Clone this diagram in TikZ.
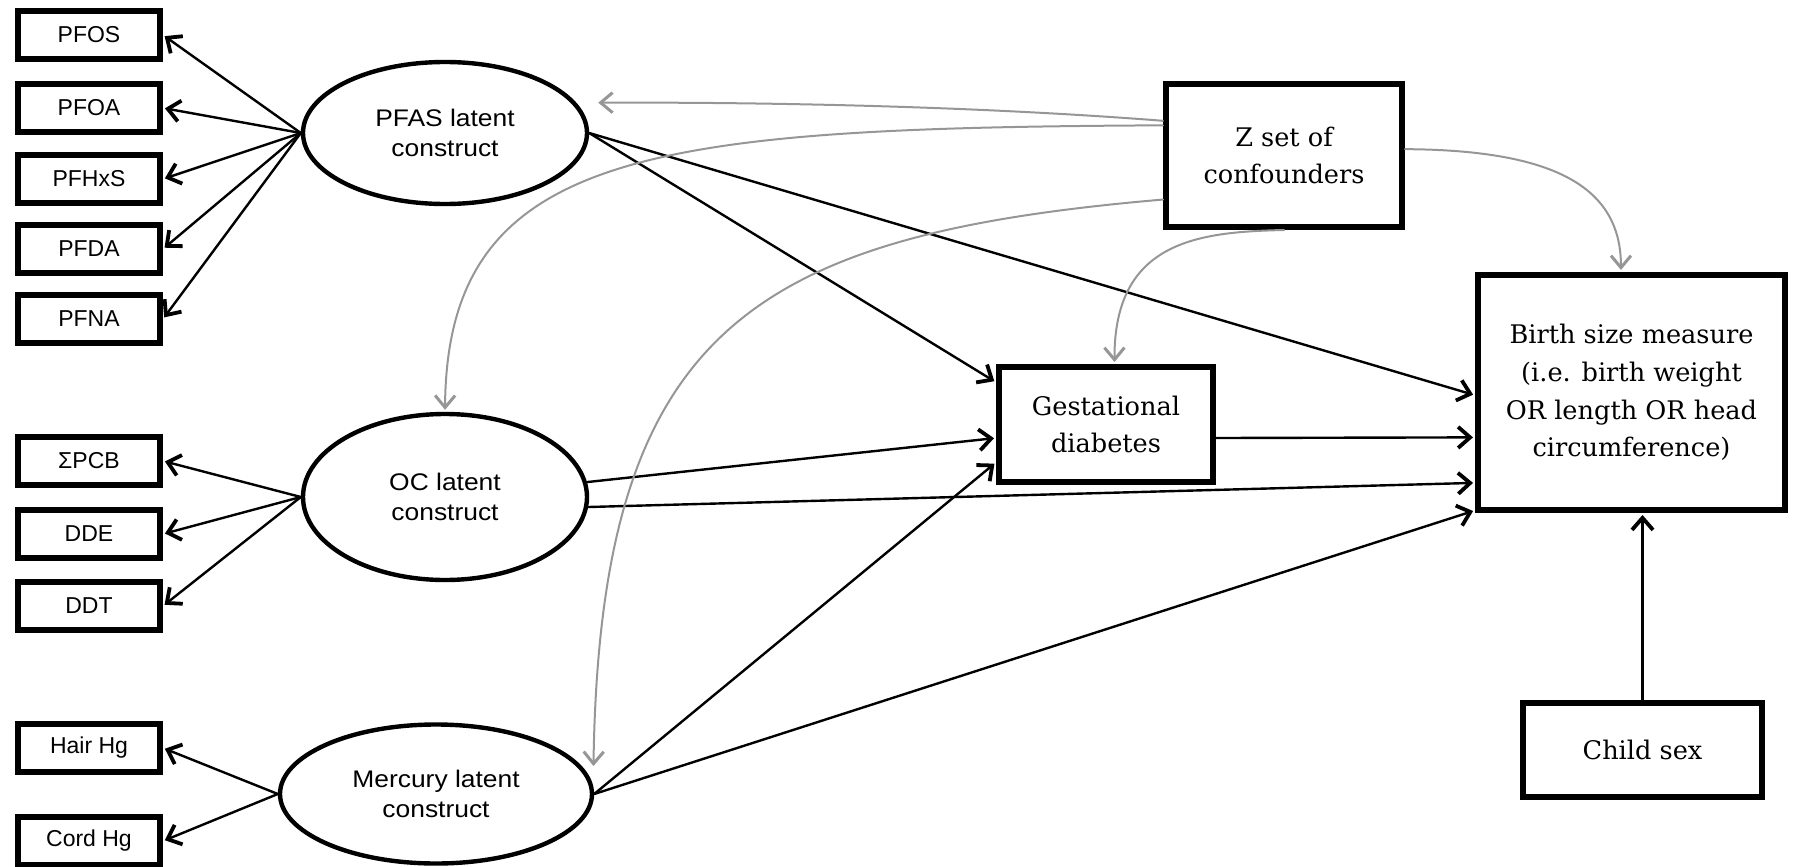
\documentclass[tikz,border=0pt]{standalone}
\usepackage{fontspec}
\usepackage{xcolor}
\usepackage{tikz}
\usetikzlibrary{arrows.meta,shapes.geometric}
\newfontfamily\labsans{Liberation Sans}
\newfontfamily\latsans[FakeStretch=1.1]{Liberation Sans}
\newfontfamily\labserif{DejaVu Serif}
\definecolor{confgray}{RGB}{150,150,150}

\begin{document}
\begin{tikzpicture}[x=0.5pt, y=-0.5pt, line cap=round, line join=round,
    indicator/.style={draw, line width=3pt, line join=miter, minimum width=71pt,
        minimum height=24pt, inner sep=0pt, font=\labsans\fontsize{11.5}{14}\selectfont},
    latent/.style={draw, ellipse, line width=2.2pt, inner sep=0pt, align=center,
        font=\latsans\fontsize{12}{15}\selectfont},
    obsbox/.style={draw, line width=3pt, line join=miter, inner sep=0pt, align=center,
        font=\labserif\fontsize{12.8}{18.8}\selectfont},
    link/.style={line width=1.2pt, shorten >=1pt,
        -{Straight Barb[length=6pt,width=10.5pt,line width=1.9pt]}},
    conflink/.style={draw=confgray, line width=1pt, shorten >=1pt,
        -{Straight Barb[length=6pt,width=10pt,line width=1.5pt]}}]

\useasboundingbox (0,0) rectangle (1794,867);

% Indicatori
\node[indicator] (pfos)  at (89,35)  {PFOS};
\node[indicator] (pfoa)  at (89,108) {PFOA};
\node[indicator] (pfhxs) at (89,179) {PFHxS};
\node[indicator] (pfda)  at (89,249) {PFDA};
\node[indicator] (pfna)  at (89,319) {PFNA};
\node[indicator] (pcb)   at (89,461) {ΣPCB};
\node[indicator] (dde)   at (89,534) {DDE};
\node[indicator] (ddt)   at (89,606) {DDT};
\node[indicator] (hair)  at (89,748) {Hair Hg};
\node[indicator] (cord)  at (89,841) {Cord Hg};

% Costrutti latenti
\node[latent, minimum width=142pt, minimum height=71pt] (pfas) at (445,133) {PFAS latent\\construct};
\node[latent, minimum width=142pt, minimum height=83pt] (oc) at (445,497) {OC latent\\construct};
\node[latent, minimum width=156pt, minimum height=69.5pt] (merc) at (436,794) {Mercury latent\\construct};

% Variabili osservate
\node[obsbox, minimum width=118pt, minimum height=71.5pt] (conf) at (1284,155.5) {Z set of\\confounders};
\node[obsbox, minimum width=107pt, minimum height=57.5pt] (gest) at (1106,424.5) {Gestational\\diabetes};
\node[obsbox, minimum width=153.5pt, minimum height=117.5pt] (birth) at (1631.5,392.5)
    {Birth size measure\\(i.e. birth weight\\OR length OR head\\circumference)};
\node[obsbox, minimum width=119.5pt, minimum height=47pt] (child) at (1642.5,750) {Child sex};

% Carichi
\draw[link] (pfas.west) -- (pfos.east);
\draw[link] (pfas.west) -- (pfoa.east);
\draw[link] (pfas.west) -- (pfhxs.east);
\draw[link] (pfas.west) -- (pfda.east);
\draw[link] (pfas.west) -- (pfna.east);
\draw[link] (oc.west) -- (pcb.east);
\draw[link] (oc.west) -- (dde.east);
\draw[link] (oc.west) -- (ddt.east);
\draw[link] (merc.west) -- (hair.east);
\draw[link] (merc.west) -- (cord.east);

% Effetti
\draw[link] (pfas.east) -- (gest.159);
\draw[link] (pfas.east) -- (birth.181);
\draw[link] (oc.6) -- (gest.187);
\draw[link] (oc.-4) -- (birth.210);
\draw[link] (merc.east) -- (gest.199);
\draw[link] (merc.east) -- (birth.217);
\draw[link] (gest.-7) -- (birth.196);
\draw[link] (child.north) -- (child.north |- birth.south);

% Confondenti
\draw[conflink] (conf.164) .. controls (1000,108) and (800,102) .. ([xshift=10pt]pfas.13);
\draw[conflink] (conf.166) .. controls (650,128) and (447,150) .. (oc.north);
\draw[conflink] (conf.200) .. controls (750,235) and (600,330) .. ([xshift=5pt]merc.10);
\draw[conflink] (conf.south) .. controls (1200,232) and (1114,240) .. (gest.82);
\draw[conflink] (conf.3) .. controls (1560,150) and (1621,190) .. (birth.95);

\end{tikzpicture}
\end{document}
